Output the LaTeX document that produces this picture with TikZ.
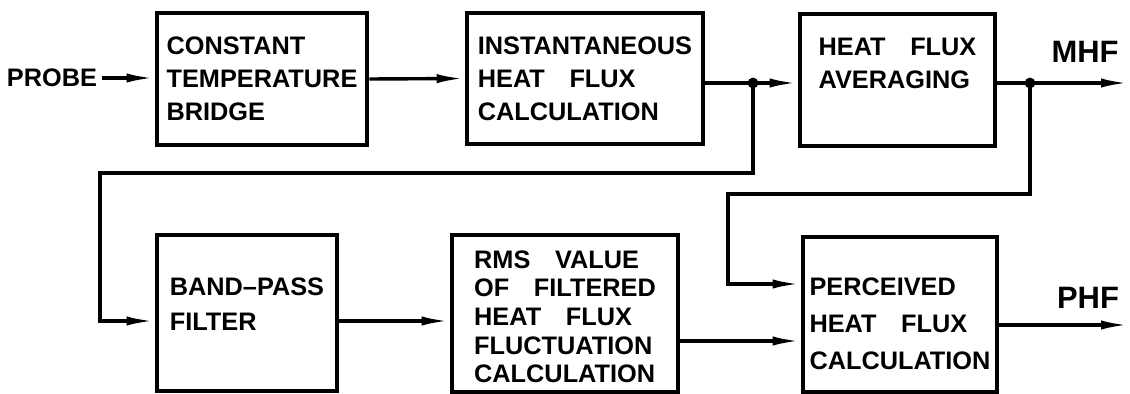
\documentclass[tikz,border=0pt]{standalone}
\usepackage{fontspec}
\setmainfont{Liberation Sans}[WordSpace=3.5]
\usetikzlibrary{arrows.meta}

\begin{document}
\begin{tikzpicture}[
    x=0.025cm, y=-0.025cm,
    block/.style={draw, line width=0.115cm, align=left, inner sep=0pt,
        font=\bfseries\fontsize{18pt}{#1}\selectfont},
    block/.default=23.5pt,
    wire/.style={line width=0.085cm, -{Latex[length=0.7cm, width=0.23cm]}},
    tag/.style={font=\bfseries\fontsize{18pt}{22pt}\selectfont, inner xsep=3pt, inner ysep=0pt},
    signal/.style={font=\bfseries\fontsize{22pt}{26pt}\selectfont, inner sep=0pt},
    junction/.style={circle, fill, inner sep=0pt, minimum size=0.27cm}
]

\useasboundingbox (0,0) rectangle (1130,394);

% Top row
\node[tag] (probe) at (52,78) {PROBE};
\node[block, minimum width=5.25cm, minimum height=3.3cm] (bridge) at (262,79)
    {CONSTANT\\TEMPERATURE\\BRIDGE};
\node[block, minimum width=5.9cm, minimum height=3.275cm] (instant) at (585,78.5)
    {INSTANTANEOUS\\HEAT FLUX\\CALCULATION};
\node[block, minimum width=4.875cm, minimum height=3.3cm] (average) at (897.5,80)
    {HEAT FLUX\\AVERAGING\rule[-0.825cm]{0pt}{0.825cm}};

\coordinate (split1) at (753,83);
\coordinate (split2) at (1030,83);
\coordinate (mhfend) at (1129,83);

\draw[wire] (probe.east) -- (probe.east -| bridge.west);
\draw[wire] (bridge.east) -- (instant.west);
\draw[wire] (instant.east |- split1) -- (average.west |- split1);
\draw[wire] (average.east |- split2) -- (mhfend);
\node[junction] (dot1) at (split1) {};
\node[junction] (dot2) at (split2) {};
\node[signal] (mhf) at (1085,52) {MHF};

% Bottom row
\node[block=24.9pt, minimum width=4.5cm, minimum height=3.9cm] (filter) at (247,313)
    {BAND--PASS\\FILTER\rule[-0.425cm]{0pt}{0.425cm}};
\node[block=20.3pt, minimum width=5.65cm, minimum height=3.925cm] (rms) at (565,313.5)
    {\rule{0pt}{17.2pt}RMS VALUE\\OF FILTERED\\HEAT FLUX\\FLUCTUATION\\CALCULATION};
\node[block=26pt, minimum width=4.85cm, minimum height=3.875cm] (percv) at (900,314.5)
    {\rule{0pt}{25.7pt}PERCEIVED\\HEAT FLUX\\CALCULATION};

\coordinate (fout) at ([yshift=-0.2cm]filter.east);
\coordinate (rout) at ([yshift=-0.6875cm]rms.east);
\coordinate (pout) at ([yshift=-0.2625cm]percv.east);
\coordinate (phfend) at (1129,325);

\draw[wire] (fout) -- (fout -| rms.west);
\draw[wire] (rout) -- (rout -| percv.west);
\draw[wire] (pout) -- (pout -| phfend);
\node[signal] (phf) at (1088,298) {PHF};

% Feedback lines
\coordinate (turn1) at (100,173);
\coordinate (turn2) at (728,194);
\draw[wire] (split1) |- (turn1) |- ([yshift=-0.2cm]filter.west);
\draw[wire] (split2) |- (turn2) |- ([yshift=0.7625cm]percv.west);

\end{tikzpicture}
\end{document}
